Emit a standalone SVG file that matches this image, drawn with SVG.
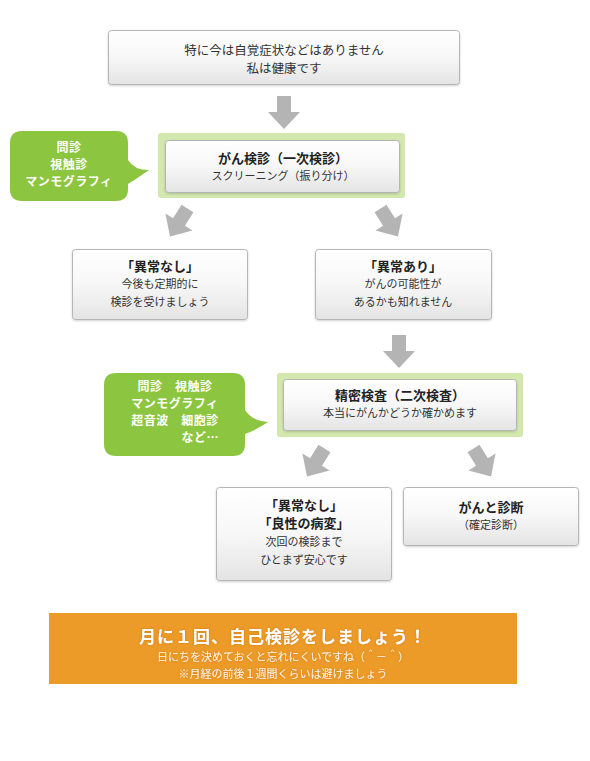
<svg xmlns="http://www.w3.org/2000/svg" width="590" height="761" viewBox="0 0 590 761">
<defs>
<linearGradient id="boxg" x1="0" y1="0" x2="0" y2="1">
<stop offset="0" stop-color="#ffffff"/>
<stop offset="0.5" stop-color="#f7f7f7"/>
<stop offset="1" stop-color="#e4e4e4"/>
</linearGradient>
<filter id="sh" x="-10%" y="-10%" width="120%" height="130%">
<feDropShadow dx="0" dy="1" stdDeviation="1" flood-color="#000" flood-opacity="0.18"/>
</filter>
<filter id="glow" x="-5%" y="-20%" width="110%" height="140%">
<feDropShadow dx="0" dy="0" stdDeviation="1.2" flood-color="#c46f00" flood-opacity="0.7"/>
</filter>
<path id="arr" d="M-7,-16 H7 V0 H16 L0,17 L-16,0 H-7 Z"/>
</defs>
<style>
.box{fill:url(#boxg);stroke:#b5b5b5;stroke-width:1;filter:url(#sh)}
.frame{fill:#d2e8ae}
.bub{fill:#8cc540}
.t{font-family:"Noto Sans CJK JP","Noto Sans",sans-serif;fill:#333;text-anchor:middle}
.b{font-weight:bold;font-size:13px;fill:#222}
.n{font-size:11px}
.m{font-size:12.5px}
.w{font-family:"Noto Sans CJK JP","Noto Sans",sans-serif;fill:#fff;font-weight:bold;font-size:12px;text-anchor:middle;letter-spacing:0.5px}
.arrow{fill:#b4b4b4}
</style>
<rect width="590" height="761" fill="#ffffff"/>

<g id="connectors">
<use href="#arr" class="arrow" transform="translate(284,112)"/>
<use href="#arr" class="arrow" transform="translate(179,222) rotate(32)"/>
<use href="#arr" class="arrow" transform="translate(389,222) rotate(-32)"/>
<use href="#arr" class="arrow" transform="translate(399,351)"/>
<use href="#arr" class="arrow" transform="translate(316,462) rotate(32)"/>
<use href="#arr" class="arrow" transform="translate(482,462) rotate(-32)"/>
</g>

<g id="node-start">
<rect class="box" x="108.5" y="30.5" width="351" height="54" rx="3"/>
<text class="t m" x="284" y="55">特に今は自覚症状などはありません</text>
<text class="t m" x="284" y="73">私は健康です</text>
</g>

<g id="bubble-1">
<path class="bub" d="M22,131 H116 Q128,131 128,143 V160 Q134,170 149,170 Q138,178 128,184 V189 Q128,201 116,201 H22 Q10,201 10,189 V143 Q10,131 22,131 Z"/>
<text class="w" x="69" y="152">問診</text>
<text class="w" x="69" y="169">視触診</text>
<text class="w" x="69" y="186">マンモグラフィ</text>
</g>

<g id="node-screening">
<rect class="frame" x="158" y="133" width="247" height="65" rx="3"/>
<rect class="box" x="165.5" y="140.5" width="234" height="52" rx="3"/>
<text class="t b" x="283" y="163">がん検診（一次検診）</text>
<text class="t n" x="283" y="180">スクリーニング（振り分け）</text>
</g>

<g id="node-normal-1">
<rect class="box" x="72.5" y="249.5" width="175" height="70" rx="3"/>
<text class="t b" x="160" y="271">「異常なし」</text>
<text class="t n" x="160" y="288">今後も定期的に</text>
<text class="t n" x="160" y="306">検診を受けましょう</text>
</g>

<g id="node-abnormal">
<rect class="box" x="315.5" y="249.5" width="176" height="70" rx="3"/>
<text class="t b" x="403" y="271">「異常あり」</text>
<text class="t n" x="403" y="288">がんの可能性が</text>
<text class="t n" x="403" y="306">あるかも知れません</text>
</g>

<g id="bubble-2">
<path class="bub" d="M116,373 H233 Q245,373 245,385 V410 Q252,421 268,422 Q256,430 245,434 V444 Q245,456 233,456 H116 Q104,456 104,444 V385 Q104,373 116,373 Z"/>
<text class="w" x="175" y="391">問診　視触診</text>
<text class="w" x="175" y="408">マンモグラフィ</text>
<text class="w" x="175" y="425">超音波　細胞診</text>
<text class="w" x="219" y="442" style="text-anchor:end">など…</text>
</g>

<g id="node-detail">
<rect class="frame" x="277" y="373" width="246" height="64" rx="3"/>
<rect class="box" x="283.5" y="379.5" width="233" height="51" rx="3"/>
<text class="t b" x="400" y="400">精密検査（二次検査）</text>
<text class="t n" x="400" y="417">本当にがんかどうか確かめます</text>
</g>

<g id="node-normal-2">
<rect class="box" x="216.5" y="487.5" width="175" height="93" rx="3"/>
<text class="t b" x="304" y="510">「異常なし」</text>
<text class="t b" x="304" y="528">「良性の病変」</text>
<text class="t n" x="304" y="546">次回の検診まで</text>
<text class="t n" x="304" y="564">ひとまず安心です</text>
</g>

<g id="node-cancer">
<rect class="box" x="403.5" y="487.5" width="175" height="58" rx="3"/>
<text class="t b" x="491" y="512">がんと診断</text>
<text class="t n" x="491" y="529">（確定診断）</text>
</g>

<g id="note">
<rect x="49" y="613" width="468" height="71" fill="#ec9a28"/>
<text class="t" x="283" y="643" style="font-size:17px;font-weight:bold;fill:#fff;letter-spacing:1px" filter="url(#glow)">月に１回、自己検診をしましょう！</text>
<text class="t n" x="283" y="661" style="fill:#fff4e4" filter="url(#glow)">日にちを決めておくと忘れにくいですね（＾－＾）</text>
<text class="t n" x="283" y="678" style="fill:#fff4e4" filter="url(#glow)">※月経の前後１週間くらいは避けましょう</text>
</g>
</svg>
